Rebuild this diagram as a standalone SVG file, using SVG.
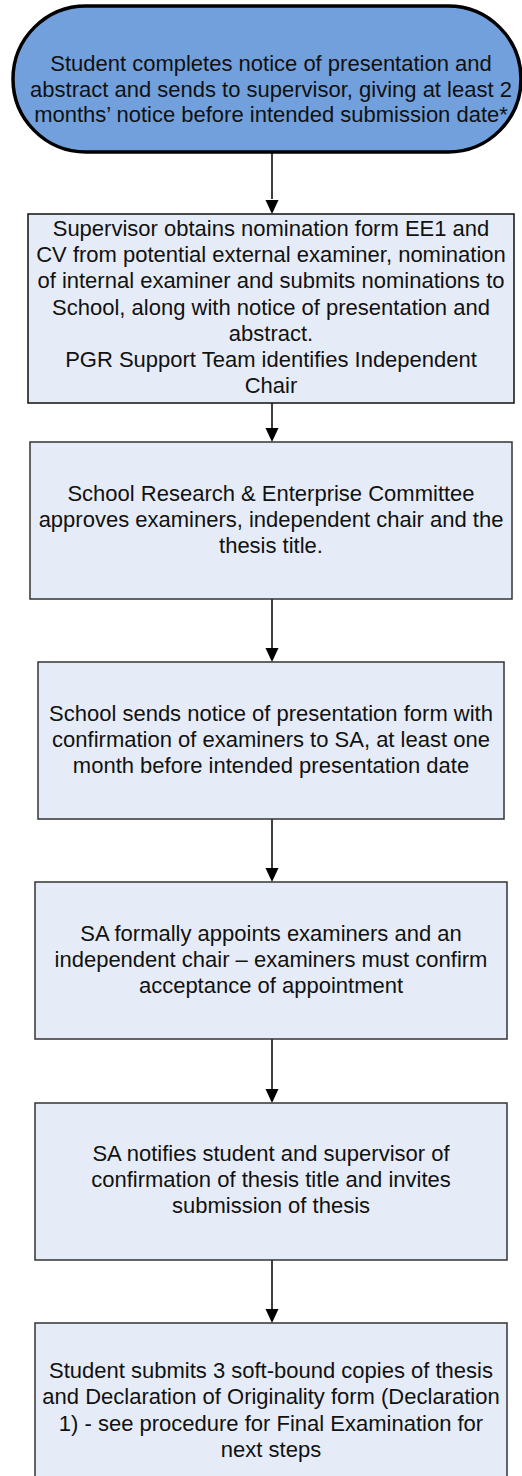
<svg xmlns="http://www.w3.org/2000/svg" width="522" height="1476" viewBox="0 0 522 1476">
<style>
.t{font-family:"Liberation Sans",Arial,sans-serif;font-size:22px;fill:#111;text-anchor:middle}
.box{fill:#E6ECF7;stroke:#333;stroke-width:1.5}
.start{fill:#71A0DC;stroke:#000;stroke-width:3.5}
.con{stroke:#000;stroke-width:1.5;fill:none}
</style>
<defs>
<marker id="ah" markerUnits="userSpaceOnUse" markerWidth="14" markerHeight="14" viewBox="0 0 14 14" refX="7" refY="14" orient="auto-start-reverse">
<path d="M0,0 L14,0 L7,14 Z" fill="#000"/>
</marker>
</defs>
<rect width="522" height="1476" fill="#fff"/>
<g id="connectors">
<path class="con" d="M272,153 V199"/><path d="M265.5,200 L278.5,200 L272,214 Z" fill="#000"/>
<path class="con" d="M272,403 V428"/><path d="M265.5,428 L278.5,428 L272,442 Z" fill="#000"/>
<path class="con" d="M272,599 V648"/><path d="M265.5,648 L278.5,648 L272,662 Z" fill="#000"/>
<path class="con" d="M272,819 V868"/><path d="M265.5,868 L278.5,868 L272,882 Z" fill="#000"/>
<path class="con" d="M272,1039 V1089"/><path d="M265.5,1089 L278.5,1089 L272,1103 Z" fill="#000"/>
<path class="con" d="M272,1260 V1309"/><path d="M265.5,1309 L278.5,1309 L272,1323 Z" fill="#000"/>
</g>
<g id="n1">
<rect class="start" x="13" y="6" width="508" height="146" rx="73" ry="73"/>
<text class="t" x="271" y="71">Student completes notice of presentation and</text>
<text class="t" x="271" y="97">abstract and sends to supervisor, giving at least 2</text>
<text class="t" x="271" y="122">months’ notice before intended submission date*</text>
</g>
<g id="n2">
<rect class="box" x="28" y="214" width="486" height="189" style="stroke:#111"/>
<text class="t" x="271" y="236">Supervisor obtains nomination form EE1 and</text>
<text class="t" x="271" y="262">CV from potential external examiner, nomination</text>
<text class="t" x="271" y="288">of internal examiner and submits nominations to</text>
<text class="t" x="271" y="315">School, along with notice of presentation and</text>
<text class="t" x="271" y="341">abstract.</text>
<text class="t" x="271" y="367">PGR Support Team identifies Independent</text>
<text class="t" x="271" y="393">Chair</text>
</g>
<g id="n3">
<rect class="box" x="30" y="442" width="482" height="157"/>
<text class="t" x="271" y="501">School Research &amp; Enterprise Committee</text>
<text class="t" x="271" y="527">approves examiners, independent chair and the</text>
<text class="t" x="271" y="553">thesis title.</text>
</g>
<g id="n4">
<rect class="box" x="38" y="662" width="466" height="157"/>
<text class="t" x="271" y="721">School sends notice of presentation form with</text>
<text class="t" x="271" y="747">confirmation of examiners to SA, at least one</text>
<text class="t" x="271" y="773">month before intended presentation date</text>
</g>
<g id="n5">
<rect class="box" x="35" y="882" width="472" height="157"/>
<text class="t" x="271" y="941">SA formally appoints examiners and an</text>
<text class="t" x="271" y="967">independent chair – examiners must confirm</text>
<text class="t" x="271" y="993">acceptance of appointment</text>
</g>
<g id="n6">
<rect class="box" x="35" y="1103" width="472" height="157"/>
<text class="t" x="271" y="1161">SA notifies student and supervisor of</text>
<text class="t" x="271" y="1187">confirmation of thesis title and invites</text>
<text class="t" x="271" y="1213">submission of thesis</text>
</g>
<g id="n7">
<rect class="box" x="35" y="1323" width="472" height="170"/>
<text class="t" x="271" y="1378">Student submits 3 soft-bound copies of thesis</text>
<text class="t" x="271" y="1404">and Declaration of Originality form (Declaration</text>
<text class="t" x="271" y="1431">1) - see procedure for Final Examination for</text>
<text class="t" x="271" y="1457">next steps</text>
</g>
</svg>
